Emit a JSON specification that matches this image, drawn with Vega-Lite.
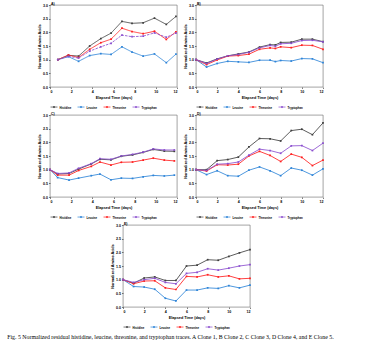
{
  "$schema": "https://vega.github.io/schema/vega-lite/v6.json",
  "padding": {"left": 7, "top": 1, "right": 0, "bottom": 0},
  "background": "white",
  "data": {"values": [
    {"panel":"A","acid":"Histidine","day":0.74,"value":1.0},{"panel":"A","acid":"Histidine","day":1.74,"value":1.16},{"panel":"A","acid":"Histidine","day":2.7,"value":1.13},{"panel":"A","acid":"Histidine","day":3.75,"value":1.5},{"panel":"A","acid":"Histidine","day":4.8,"value":1.77},{"panel":"A","acid":"Histidine","day":5.77,"value":1.97},{"panel":"A","acid":"Histidine","day":6.8,"value":2.4},{"panel":"A","acid":"Histidine","day":7.75,"value":2.33},{"panel":"A","acid":"Histidine","day":8.8,"value":2.35},{"panel":"A","acid":"Histidine","day":9.87,"value":2.52},{"panel":"A","acid":"Histidine","day":10.99,"value":2.29},{"panel":"A","acid":"Histidine","day":11.9,"value":2.58},
    {"panel":"A","acid":"Leucine","day":0.74,"value":1.0},{"panel":"A","acid":"Leucine","day":1.74,"value":1.11},{"panel":"A","acid":"Leucine","day":2.7,"value":0.94},{"panel":"A","acid":"Leucine","day":3.75,"value":1.15},{"panel":"A","acid":"Leucine","day":4.8,"value":1.22},{"panel":"A","acid":"Leucine","day":5.77,"value":1.19},{"panel":"A","acid":"Leucine","day":6.8,"value":1.47},{"panel":"A","acid":"Leucine","day":7.75,"value":1.28},{"panel":"A","acid":"Leucine","day":8.8,"value":1.13},{"panel":"A","acid":"Leucine","day":9.87,"value":1.21},{"panel":"A","acid":"Leucine","day":10.99,"value":0.89},{"panel":"A","acid":"Leucine","day":11.9,"value":1.2},
    {"panel":"A","acid":"Threonine","day":0.74,"value":1.0},{"panel":"A","acid":"Threonine","day":1.74,"value":1.17},{"panel":"A","acid":"Threonine","day":2.7,"value":1.08},{"panel":"A","acid":"Threonine","day":3.75,"value":1.38},{"panel":"A","acid":"Threonine","day":4.8,"value":1.62},{"panel":"A","acid":"Threonine","day":5.77,"value":1.75},{"panel":"A","acid":"Threonine","day":6.8,"value":2.15},{"panel":"A","acid":"Threonine","day":7.75,"value":2.03},{"panel":"A","acid":"Threonine","day":8.8,"value":1.95},{"panel":"A","acid":"Threonine","day":9.87,"value":2.04},{"panel":"A","acid":"Threonine","day":10.99,"value":1.74},{"panel":"A","acid":"Threonine","day":11.9,"value":2.02},
    {"panel":"A","acid":"Tryptophan","day":0.74,"value":1.0},{"panel":"A","acid":"Tryptophan","day":1.74,"value":1.12},{"panel":"A","acid":"Tryptophan","day":2.7,"value":1.06},{"panel":"A","acid":"Tryptophan","day":3.75,"value":1.31},{"panel":"A","acid":"Tryptophan","day":4.8,"value":1.47},{"panel":"A","acid":"Tryptophan","day":5.77,"value":1.6},{"panel":"A","acid":"Tryptophan","day":6.8,"value":1.9},{"panel":"A","acid":"Tryptophan","day":7.75,"value":1.84},{"panel":"A","acid":"Tryptophan","day":8.8,"value":1.86},{"panel":"A","acid":"Tryptophan","day":9.87,"value":1.98},{"panel":"A","acid":"Tryptophan","day":10.99,"value":1.82},{"panel":"A","acid":"Tryptophan","day":11.9,"value":1.97},

    {"panel":"B","acid":"Histidine","day":0,"value":1.0},{"panel":"B","acid":"Histidine","day":1,"value":0.88},{"panel":"B","acid":"Histidine","day":2,"value":1.03},{"panel":"B","acid":"Histidine","day":3,"value":1.14},{"panel":"B","acid":"Histidine","day":4,"value":1.21},{"panel":"B","acid":"Histidine","day":5,"value":1.28},{"panel":"B","acid":"Histidine","day":6,"value":1.46},{"panel":"B","acid":"Histidine","day":7,"value":1.55},{"panel":"B","acid":"Histidine","day":7.5,"value":1.54},{"panel":"B","acid":"Histidine","day":8,"value":1.63},{"panel":"B","acid":"Histidine","day":9,"value":1.64},{"panel":"B","acid":"Histidine","day":10,"value":1.75},{"panel":"B","acid":"Histidine","day":11,"value":1.75},{"panel":"B","acid":"Histidine","day":12,"value":1.66},
    {"panel":"B","acid":"Leucine","day":0,"value":1.0},{"panel":"B","acid":"Leucine","day":1,"value":0.73},{"panel":"B","acid":"Leucine","day":2,"value":0.86},{"panel":"B","acid":"Leucine","day":3,"value":0.94},{"panel":"B","acid":"Leucine","day":4,"value":0.92},{"panel":"B","acid":"Leucine","day":5,"value":0.9},{"panel":"B","acid":"Leucine","day":6,"value":0.98},{"panel":"B","acid":"Leucine","day":7,"value":0.98},{"panel":"B","acid":"Leucine","day":7.5,"value":0.93},{"panel":"B","acid":"Leucine","day":8,"value":0.97},{"panel":"B","acid":"Leucine","day":9,"value":0.95},{"panel":"B","acid":"Leucine","day":10,"value":1.04},{"panel":"B","acid":"Leucine","day":11,"value":1.03},{"panel":"B","acid":"Leucine","day":12,"value":0.89},
    {"panel":"B","acid":"Threonine","day":0,"value":1.0},{"panel":"B","acid":"Threonine","day":1,"value":0.82},{"panel":"B","acid":"Threonine","day":2,"value":0.99},{"panel":"B","acid":"Threonine","day":3,"value":1.13},{"panel":"B","acid":"Threonine","day":4,"value":1.15},{"panel":"B","acid":"Threonine","day":5,"value":1.2},{"panel":"B","acid":"Threonine","day":6,"value":1.38},{"panel":"B","acid":"Threonine","day":7,"value":1.43},{"panel":"B","acid":"Threonine","day":7.5,"value":1.41},{"panel":"B","acid":"Threonine","day":8,"value":1.47},{"panel":"B","acid":"Threonine","day":9,"value":1.44},{"panel":"B","acid":"Threonine","day":10,"value":1.53},{"panel":"B","acid":"Threonine","day":11,"value":1.52},{"panel":"B","acid":"Threonine","day":12,"value":1.38},
    {"panel":"B","acid":"Tryptophan","day":0,"value":1.0},{"panel":"B","acid":"Tryptophan","day":1,"value":0.86},{"panel":"B","acid":"Tryptophan","day":2,"value":1.02},{"panel":"B","acid":"Tryptophan","day":3,"value":1.14},{"panel":"B","acid":"Tryptophan","day":4,"value":1.19},{"panel":"B","acid":"Tryptophan","day":5,"value":1.27},{"panel":"B","acid":"Tryptophan","day":6,"value":1.43},{"panel":"B","acid":"Tryptophan","day":7,"value":1.52},{"panel":"B","acid":"Tryptophan","day":7.5,"value":1.49},{"panel":"B","acid":"Tryptophan","day":8,"value":1.58},{"panel":"B","acid":"Tryptophan","day":9,"value":1.6},{"panel":"B","acid":"Tryptophan","day":10,"value":1.7},{"panel":"B","acid":"Tryptophan","day":11,"value":1.71},{"panel":"B","acid":"Tryptophan","day":12,"value":1.65},

    {"panel":"C","acid":"Histidine","day":0,"value":1.0},{"panel":"C","acid":"Histidine","day":0.72,"value":0.84},{"panel":"C","acid":"Histidine","day":1.8,"value":0.86},{"panel":"C","acid":"Histidine","day":2.7,"value":1.02},{"panel":"C","acid":"Histidine","day":3.9,"value":1.21},{"panel":"C","acid":"Histidine","day":4.72,"value":1.38},{"panel":"C","acid":"Histidine","day":5.76,"value":1.36},{"panel":"C","acid":"Histidine","day":6.74,"value":1.49},{"panel":"C","acid":"Histidine","day":7.8,"value":1.54},{"panel":"C","acid":"Histidine","day":8.8,"value":1.63},{"panel":"C","acid":"Histidine","day":9.76,"value":1.74},{"panel":"C","acid":"Histidine","day":10.8,"value":1.68},{"panel":"C","acid":"Histidine","day":11.75,"value":1.67},
    {"panel":"C","acid":"Leucine","day":0,"value":1.0},{"panel":"C","acid":"Leucine","day":0.72,"value":0.71},{"panel":"C","acid":"Leucine","day":1.8,"value":0.62},{"panel":"C","acid":"Leucine","day":2.7,"value":0.69},{"panel":"C","acid":"Leucine","day":3.9,"value":0.78},{"panel":"C","acid":"Leucine","day":4.72,"value":0.84},{"panel":"C","acid":"Leucine","day":5.76,"value":0.63},{"panel":"C","acid":"Leucine","day":6.74,"value":0.69},{"panel":"C","acid":"Leucine","day":7.8,"value":0.68},{"panel":"C","acid":"Leucine","day":8.8,"value":0.74},{"panel":"C","acid":"Leucine","day":9.76,"value":0.79},{"panel":"C","acid":"Leucine","day":10.8,"value":0.77},{"panel":"C","acid":"Leucine","day":11.75,"value":0.8},
    {"panel":"C","acid":"Threonine","day":0,"value":1.0},{"panel":"C","acid":"Threonine","day":0.72,"value":0.8},{"panel":"C","acid":"Threonine","day":1.8,"value":0.8},{"panel":"C","acid":"Threonine","day":2.7,"value":0.97},{"panel":"C","acid":"Threonine","day":3.9,"value":1.12},{"panel":"C","acid":"Threonine","day":4.72,"value":1.28},{"panel":"C","acid":"Threonine","day":5.76,"value":1.17},{"panel":"C","acid":"Threonine","day":6.74,"value":1.27},{"panel":"C","acid":"Threonine","day":7.8,"value":1.28},{"panel":"C","acid":"Threonine","day":8.8,"value":1.35},{"panel":"C","acid":"Threonine","day":9.76,"value":1.42},{"panel":"C","acid":"Threonine","day":10.8,"value":1.35},{"panel":"C","acid":"Threonine","day":11.75,"value":1.32},
    {"panel":"C","acid":"Tryptophan","day":0,"value":1.0},{"panel":"C","acid":"Tryptophan","day":0.72,"value":0.86},{"panel":"C","acid":"Tryptophan","day":1.8,"value":0.88},{"panel":"C","acid":"Tryptophan","day":2.7,"value":1.05},{"panel":"C","acid":"Tryptophan","day":3.9,"value":1.22},{"panel":"C","acid":"Tryptophan","day":4.72,"value":1.4},{"panel":"C","acid":"Tryptophan","day":5.76,"value":1.38},{"panel":"C","acid":"Tryptophan","day":6.74,"value":1.5},{"panel":"C","acid":"Tryptophan","day":7.8,"value":1.56},{"panel":"C","acid":"Tryptophan","day":8.8,"value":1.64},{"panel":"C","acid":"Tryptophan","day":9.76,"value":1.76},{"panel":"C","acid":"Tryptophan","day":10.8,"value":1.72},{"panel":"C","acid":"Tryptophan","day":11.75,"value":1.72},

    {"panel":"D","acid":"Histidine","day":0,"value":1.0},{"panel":"D","acid":"Histidine","day":1,"value":1.0},{"panel":"D","acid":"Histidine","day":2,"value":1.33},{"panel":"D","acid":"Histidine","day":3,"value":1.37},{"panel":"D","acid":"Histidine","day":4,"value":1.46},{"panel":"D","acid":"Histidine","day":5,"value":1.83},{"panel":"D","acid":"Histidine","day":6,"value":2.14},{"panel":"D","acid":"Histidine","day":7,"value":2.13},{"panel":"D","acid":"Histidine","day":8,"value":2.05},{"panel":"D","acid":"Histidine","day":9,"value":2.43},{"panel":"D","acid":"Histidine","day":10,"value":2.48},{"panel":"D","acid":"Histidine","day":11,"value":2.28},{"panel":"D","acid":"Histidine","day":12,"value":2.71},
    {"panel":"D","acid":"Leucine","day":0,"value":1.0},{"panel":"D","acid":"Leucine","day":1,"value":0.82},{"panel":"D","acid":"Leucine","day":2,"value":0.96},{"panel":"D","acid":"Leucine","day":3,"value":0.78},{"panel":"D","acid":"Leucine","day":4,"value":0.76},{"panel":"D","acid":"Leucine","day":5,"value":0.98},{"panel":"D","acid":"Leucine","day":6,"value":1.1},{"panel":"D","acid":"Leucine","day":7,"value":0.96},{"panel":"D","acid":"Leucine","day":8,"value":0.78},{"panel":"D","acid":"Leucine","day":9,"value":1.06},{"panel":"D","acid":"Leucine","day":10,"value":0.98},{"panel":"D","acid":"Leucine","day":11,"value":0.8},{"panel":"D","acid":"Leucine","day":12,"value":1.03},
    {"panel":"D","acid":"Threonine","day":0,"value":1.0},{"panel":"D","acid":"Threonine","day":1,"value":0.95},{"panel":"D","acid":"Threonine","day":2,"value":1.18},{"panel":"D","acid":"Threonine","day":3,"value":1.17},{"panel":"D","acid":"Threonine","day":4,"value":1.2},{"panel":"D","acid":"Threonine","day":5,"value":1.5},{"panel":"D","acid":"Threonine","day":6,"value":1.67},{"panel":"D","acid":"Threonine","day":7,"value":1.52},{"panel":"D","acid":"Threonine","day":8,"value":1.3},{"panel":"D","acid":"Threonine","day":9,"value":1.57},{"panel":"D","acid":"Threonine","day":10,"value":1.45},{"panel":"D","acid":"Threonine","day":11,"value":1.15},{"panel":"D","acid":"Threonine","day":12,"value":1.35},
    {"panel":"D","acid":"Tryptophan","day":0,"value":1.0},{"panel":"D","acid":"Tryptophan","day":1,"value":0.97},{"panel":"D","acid":"Tryptophan","day":2,"value":1.2},{"panel":"D","acid":"Tryptophan","day":3,"value":1.22},{"panel":"D","acid":"Tryptophan","day":4,"value":1.28},{"panel":"D","acid":"Tryptophan","day":5,"value":1.53},{"panel":"D","acid":"Tryptophan","day":6,"value":1.75},{"panel":"D","acid":"Tryptophan","day":7,"value":1.7},{"panel":"D","acid":"Tryptophan","day":8,"value":1.6},{"panel":"D","acid":"Tryptophan","day":9,"value":1.87},{"panel":"D","acid":"Tryptophan","day":10,"value":1.88},{"panel":"D","acid":"Tryptophan","day":11,"value":1.7},{"panel":"D","acid":"Tryptophan","day":12,"value":1.97},

    {"panel":"E","acid":"Histidine","day":0,"value":1.0},{"panel":"E","acid":"Histidine","day":1,"value":0.87},{"panel":"E","acid":"Histidine","day":2,"value":1.06},{"panel":"E","acid":"Histidine","day":3,"value":1.1},{"panel":"E","acid":"Histidine","day":4,"value":0.97},{"panel":"E","acid":"Histidine","day":5,"value":0.97},{"panel":"E","acid":"Histidine","day":6,"value":1.5},{"panel":"E","acid":"Histidine","day":7,"value":1.53},{"panel":"E","acid":"Histidine","day":8,"value":1.73},{"panel":"E","acid":"Histidine","day":9,"value":1.71},{"panel":"E","acid":"Histidine","day":10,"value":1.85},{"panel":"E","acid":"Histidine","day":11,"value":1.98},{"panel":"E","acid":"Histidine","day":12,"value":2.1},
    {"panel":"E","acid":"Leucine","day":0,"value":1.0},{"panel":"E","acid":"Leucine","day":1,"value":0.75},{"panel":"E","acid":"Leucine","day":2,"value":0.73},{"panel":"E","acid":"Leucine","day":3,"value":0.65},{"panel":"E","acid":"Leucine","day":4,"value":0.32},{"panel":"E","acid":"Leucine","day":5,"value":0.22},{"panel":"E","acid":"Leucine","day":6,"value":0.62},{"panel":"E","acid":"Leucine","day":7,"value":0.62},{"panel":"E","acid":"Leucine","day":8,"value":0.7},{"panel":"E","acid":"Leucine","day":9,"value":0.68},{"panel":"E","acid":"Leucine","day":10,"value":0.78},{"panel":"E","acid":"Leucine","day":11,"value":0.7},{"panel":"E","acid":"Leucine","day":12,"value":0.8},
    {"panel":"E","acid":"Threonine","day":0,"value":1.0},{"panel":"E","acid":"Threonine","day":1,"value":0.85},{"panel":"E","acid":"Threonine","day":2,"value":0.95},{"panel":"E","acid":"Threonine","day":3,"value":0.96},{"panel":"E","acid":"Threonine","day":4,"value":0.7},{"panel":"E","acid":"Threonine","day":5,"value":0.64},{"panel":"E","acid":"Threonine","day":6,"value":1.12},{"panel":"E","acid":"Threonine","day":7,"value":1.1},{"panel":"E","acid":"Threonine","day":8,"value":1.18},{"panel":"E","acid":"Threonine","day":9,"value":1.1},{"panel":"E","acid":"Threonine","day":10,"value":1.14},{"panel":"E","acid":"Threonine","day":11,"value":1.03},{"panel":"E","acid":"Threonine","day":12,"value":1.05},
    {"panel":"E","acid":"Tryptophan","day":0,"value":1.0},{"panel":"E","acid":"Tryptophan","day":1,"value":0.9},{"panel":"E","acid":"Tryptophan","day":2,"value":1.0},{"panel":"E","acid":"Tryptophan","day":3,"value":1.05},{"panel":"E","acid":"Tryptophan","day":4,"value":0.9},{"panel":"E","acid":"Tryptophan","day":5,"value":0.85},{"panel":"E","acid":"Tryptophan","day":6,"value":1.23},{"panel":"E","acid":"Tryptophan","day":7,"value":1.27},{"panel":"E","acid":"Tryptophan","day":8,"value":1.4},{"panel":"E","acid":"Tryptophan","day":9,"value":1.35},{"panel":"E","acid":"Tryptophan","day":10,"value":1.42},{"panel":"E","acid":"Tryptophan","day":11,"value":1.5},{"panel":"E","acid":"Tryptophan","day":12,"value":1.55}
  ]},
  "title": {"text": "Fig. 5  Normalized residual histidine, leucine, threonine, and tryptophan traces. A Clone 1, B Clone 2, C Clone 3, D Clone 4, and E Clone 5.", "orient": "bottom", "anchor": "start", "frame": "bounds", "dx": -30, "offset": 5, "fontSize": 5.85, "font": "Liberation Serif", "fontWeight": "normal", "color": "#000"},
  "spacing": 1,
  "center": true,
  "resolve": {"scale": {"color": "independent"}},
  "vconcat": [
    {
      "spacing": 5,
      "resolve": {"scale": {"color": "independent"}},
      "hconcat": [
        {
          "width": 127, "height": 82,
          "transform": [{"filter": "datum.panel === 'A'"}],
          "title": {"text": "A)"},
          "mark": {"type": "line", "strokeWidth": 0.85, "point": {"shape": "square", "size": 3, "filled": true}},
          "encoding": {
            "x": {"field": "day", "type": "quantitative", "scale": {"domain": [0, 12], "nice": false}, "axis": {"values": [0, 2, 4, 6, 8, 10, 12], "title": "Elapsed Time (days)"}},
            "y": {"field": "value", "type": "quantitative", "scale": {"domain": [0, 3], "nice": false}, "axis": {"values": [0, 0.5, 1, 1.5, 2, 2.5, 3], "format": ".1f", "title": "Normalized Amino Acids"}},
            "color": {"field": "acid", "type": "nominal", "scale": {"domain": ["Histidine", "Leucine", "Threonine", "Tryptophan"], "range": ["#404040", "#2f85d8", "#ff2020", "#8b4fcf"]}, "legend": {"title": null}},
            "strokeDash": {"field": "acid", "type": "nominal", "scale": {"domain": ["Histidine", "Leucine", "Threonine", "Tryptophan"], "range": [[1, 0], [1, 0], [1, 0], [2.5, 1.2]]}, "legend": null}
          }
        },
        {
          "width": 127, "height": 82,
          "transform": [{"filter": "datum.panel === 'B'"}],
          "title": {"text": "B)"},
          "mark": {"type": "line", "strokeWidth": 0.85, "point": {"shape": "square", "size": 3, "filled": true}},
          "encoding": {
            "x": {"field": "day", "type": "quantitative", "scale": {"domain": [0, 12], "nice": false}, "axis": {"values": [0, 2, 4, 6, 8, 10, 12], "title": "Elapsed Time (days)"}},
            "y": {"field": "value", "type": "quantitative", "scale": {"domain": [0, 3], "nice": false}, "axis": {"values": [0, 0.5, 1, 1.5, 2, 2.5, 3], "format": ".1f", "title": "Normalized Amino Acids"}},
            "color": {"field": "acid", "type": "nominal", "scale": {"domain": ["Histidine", "Leucine", "Threonine", "Tryptophan"], "range": ["#404040", "#2f85d8", "#ff2020", "#8b4fcf"]}, "legend": {"title": null}}
          }
        }
      ]
    },
    {
      "spacing": 5,
      "resolve": {"scale": {"color": "independent"}},
      "hconcat": [
        {
          "width": 127, "height": 82,
          "transform": [{"filter": "datum.panel === 'C'"}],
          "title": {"text": "C)"},
          "mark": {"type": "line", "strokeWidth": 0.85, "point": {"shape": "square", "size": 3, "filled": true}},
          "encoding": {
            "x": {"field": "day", "type": "quantitative", "scale": {"domain": [0, 12], "nice": false}, "axis": {"values": [0, 2, 4, 6, 8, 10, 12], "title": "Elapsed Time (days)"}},
            "y": {"field": "value", "type": "quantitative", "scale": {"domain": [0, 3], "nice": false}, "axis": {"values": [0, 0.5, 1, 1.5, 2, 2.5, 3], "format": ".1f", "title": "Normalized Amino Acids"}},
            "color": {"field": "acid", "type": "nominal", "scale": {"domain": ["Histidine", "Leucine", "Threonine", "Tryptophan"], "range": ["#404040", "#2f85d8", "#ff2020", "#8b4fcf"]}, "legend": {"title": null}}
          }
        },
        {
          "width": 127, "height": 82,
          "transform": [{"filter": "datum.panel === 'D'"}],
          "title": {"text": "D)"},
          "mark": {"type": "line", "strokeWidth": 0.85, "point": {"shape": "square", "size": 3, "filled": true}},
          "encoding": {
            "x": {"field": "day", "type": "quantitative", "scale": {"domain": [0, 12], "nice": false}, "axis": {"values": [0, 2, 4, 6, 8, 10, 12], "title": "Elapsed Time (days)"}},
            "y": {"field": "value", "type": "quantitative", "scale": {"domain": [0, 3], "nice": false}, "axis": {"values": [0, 0.5, 1, 1.5, 2, 2.5, 3], "format": ".1f", "title": "Normalized Amino Acids"}},
            "color": {"field": "acid", "type": "nominal", "scale": {"domain": ["Histidine", "Leucine", "Threonine", "Tryptophan"], "range": ["#404040", "#2f85d8", "#ff2020", "#8b4fcf"]}, "legend": {"title": null}}
          }
        }
      ]
    },
    {
      "width": 127, "height": 82,
      "transform": [{"filter": "datum.panel === 'E'"}],
      "title": {"text": "E)"},
      "mark": {"type": "line", "strokeWidth": 0.85, "point": {"shape": "square", "size": 3, "filled": true}},
      "encoding": {
        "x": {"field": "day", "type": "quantitative", "scale": {"domain": [0, 12], "nice": false}, "axis": {"values": [0, 2, 4, 6, 8, 10, 12], "title": "Elapsed Time (days)"}},
        "y": {"field": "value", "type": "quantitative", "scale": {"domain": [0, 3], "nice": false}, "axis": {"values": [0, 0.5, 1, 1.5, 2, 2.5, 3], "format": ".1f", "title": "Normalized Amino Acids"}},
        "color": {"field": "acid", "type": "nominal", "scale": {"domain": ["Histidine", "Leucine", "Threonine", "Tryptophan"], "range": ["#404040", "#2f85d8", "#ff2020", "#8b4fcf"]}, "legend": {"title": null}}
      }
    }
  ],
  "config": {
    "view": {"stroke": "#666666", "strokeWidth": 0.6},
    "font": "Liberation Sans",
    "title": {"anchor": "start", "frame": "group", "orient": "top", "offset": -2.5, "dx": 1, "baseline": "top", "fontSize": 3.5, "fontWeight": "bold", "font": "Liberation Sans", "color": "#000"},
    "axis": {"labelFont": "Liberation Sans", "labelFontSize": 3.6, "labelFontWeight": "bold", "labelColor": "#000", "titleFont": "Liberation Sans", "titleFontSize": 3.8, "titleFontWeight": "bold", "titleColor": "#000", "tickSize": 1.5, "tickWidth": 0.5, "tickColor": "#000", "domain": false, "grid": false, "labelPadding": 1},
    "axisX": {"titlePadding": 2},
    "axisY": {"titlePadding": 1},
    "legend": {"orient": "bottom", "direction": "horizontal", "labelFont": "Liberation Sans", "labelFontSize": 2.8, "labelFontWeight": "bold", "labelColor": "#000", "symbolType": "M-1,0H1M-0.15,-0.15H0.15V0.15H-0.15Z", "symbolSize": 49, "symbolStrokeWidth": 0.7, "columnPadding": 4, "labelOffset": 1.5, "offset": 4, "padding": 0}
  }
}
